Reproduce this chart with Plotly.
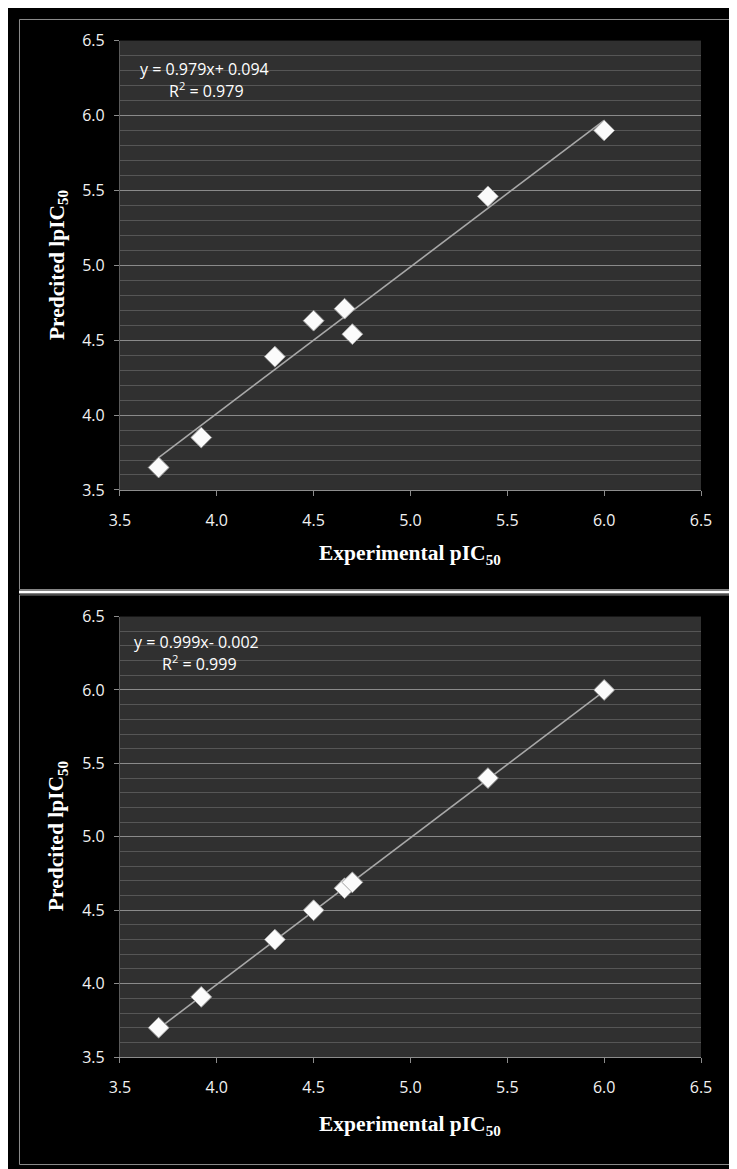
import plotly.graph_objects as go

W, H = 737, 1169

# ---- data ----
exp_top = [3.70, 3.92, 4.30, 4.50, 4.66, 4.70, 5.40, 6.00]
pred_top = [3.65, 3.85, 4.39, 4.63, 4.71, 4.54, 5.46, 5.90]
slope_top, intercept_top = 0.979, 0.094
eq_top = "y = 0.979x+ 0.094"
r2_top = "R<sup>2</sup> = 0.979"

exp_bot = [3.70, 3.92, 4.30, 4.50, 4.66, 4.70, 5.40, 6.00]
pred_bot = [3.70, 3.91, 4.30, 4.50, 4.65, 4.69, 5.40, 6.00]
slope_bot, intercept_bot = 0.999, -0.002
eq_bot = "y = 0.999x- 0.002"
r2_bot = "R<sup>2</sup> = 0.999"

tick_vals = [3.5, 4.0, 4.5, 5.0, 5.5, 6.0, 6.5]
tick_text = ["3.5", "4.0", "4.5", "5.0", "5.5", "6.0", "6.5"]
x_title = "Experimental pIC<sub>50</sub>"
y_title = "Predcited lpIC<sub>50</sub>"


def px(x):
    return x / W


def py(y):
    return 1 - y / H


fig = go.Figure()

panels = [
    dict(xa="x", ya="y", ex=exp_top, pr=pred_top, m=slope_top, b=intercept_top),
    dict(xa="x2", ya="y2", ex=exp_bot, pr=pred_bot, m=slope_bot, b=intercept_bot),
]

for p in panels:
    x0, x1 = min(p["ex"]), max(p["ex"])
    fig.add_trace(go.Scatter(
        x=[x0, x1], y=[p["m"] * x0 + p["b"], p["m"] * x1 + p["b"]],
        mode="lines", line=dict(color="#a8a8a8", width=1.6),
        xaxis=p["xa"], yaxis=p["ya"], showlegend=False, hoverinfo="skip"))
    fig.add_trace(go.Scatter(
        x=p["ex"], y=p["pr"], mode="markers",
        marker=dict(symbol="diamond", size=16, color="#fbfbfb",
                    line=dict(color="#a0a0a0", width=1)),
        xaxis=p["xa"], yaxis=p["ya"], showlegend=False))

axis_font = dict(family="Open Sans", size=16, color="#f2f2f2")
xcommon = dict(range=[3.5, 6.5], tickvals=tick_vals, ticktext=tick_text,
               showgrid=False, zeroline=False, showline=True, linecolor="#8c8c8c",
               ticks="outside", ticklen=5, tickcolor="#8c8c8c",
               tickfont=axis_font, ticklabelstandoff=11, domain=[px(104), px(703)])
ycommon = dict(range=[3.5, 6.5], tickvals=tick_vals, ticktext=tick_text,
               showgrid=True, gridcolor="#8a8a8a", gridwidth=1,
               minor=dict(dtick=0.1, showgrid=True, gridcolor="#565656", gridwidth=1),
               zeroline=False, showline=True, linecolor="#5a5a5a",
               ticks="outside", ticklen=5, tickcolor="#8c8c8c",
               tickfont=axis_font, ticklabelstandoff=6)

fig.update_layout(
    width=W, height=H,
    margin=dict(l=0, r=0, t=0, b=0),
    paper_bgcolor="black", plot_bgcolor="#303030",
    xaxis=dict(**xcommon, anchor="y"),
    yaxis=dict(**ycommon, anchor="x", domain=[py(480), py(22)]),
    xaxis2=dict(**xcommon, anchor="y2"),
    yaxis2=dict(**ycommon, anchor="x2", domain=[py(1058), py(609)]),
)

title_font = dict(family="Liberation Serif", size=21.5, color="white")
eq_font = dict(family="Open Sans", size=16, color="white")
ann = []
for (xt_y, yt_y, eq, r2, eqpos, r2pos) in [
    (546, 251, eq_top, r2_top, (191, 51), (193, 72)),
    (1128, 833, eq_bot, r2_bot, (183, 635), (186, 656)),
]:
    ann.append(dict(text="<b>" + x_title + "</b>", x=px(403.5), y=py(xt_y),
                    xref="paper", yref="paper", showarrow=False, font=title_font,
                    xanchor="center", yanchor="middle"))
    ann.append(dict(text="<b>" + y_title + "</b>", x=px(40), y=py(yt_y),
                    xref="paper", yref="paper", showarrow=False, font=title_font,
                    textangle=-90, xanchor="center", yanchor="middle"))
    ann.append(dict(text=eq, x=px(eqpos[0]), y=py(eqpos[1]), xref="paper", yref="paper",
                    showarrow=False, font=eq_font, xanchor="center", yanchor="middle"))
    ann.append(dict(text=r2, x=px(r2pos[0]), y=py(r2pos[1]), xref="paper", yref="paper",
                    showarrow=False, font=eq_font, xanchor="center", yanchor="middle"))
fig.update_layout(annotations=ann)

shapes = [
    # panel borders
    dict(type="rect", xref="paper", yref="paper", x0=px(0.5), x1=px(735.5),
         y0=py(581.5), y1=py(0.5), line=dict(color="#8c8c8c", width=1)),
    dict(type="rect", xref="paper", yref="paper", x0=px(0.5), x1=px(735.5),
         y0=py(1167.5), y1=py(587), line=dict(color="#8c8c8c", width=1)),
    # white separator
    dict(type="line", xref="paper", yref="paper", x0=0, x1=1,
         y0=py(584), y1=py(584), line=dict(color="white", width=3)),
    dict(type="line", xref="paper", yref="paper", x0=px(736.5), x1=px(736.5),
         y0=0, y1=1, line=dict(color="white", width=1)),
]
fig.update_layout(shapes=shapes)

fig.write_html("out.html")
